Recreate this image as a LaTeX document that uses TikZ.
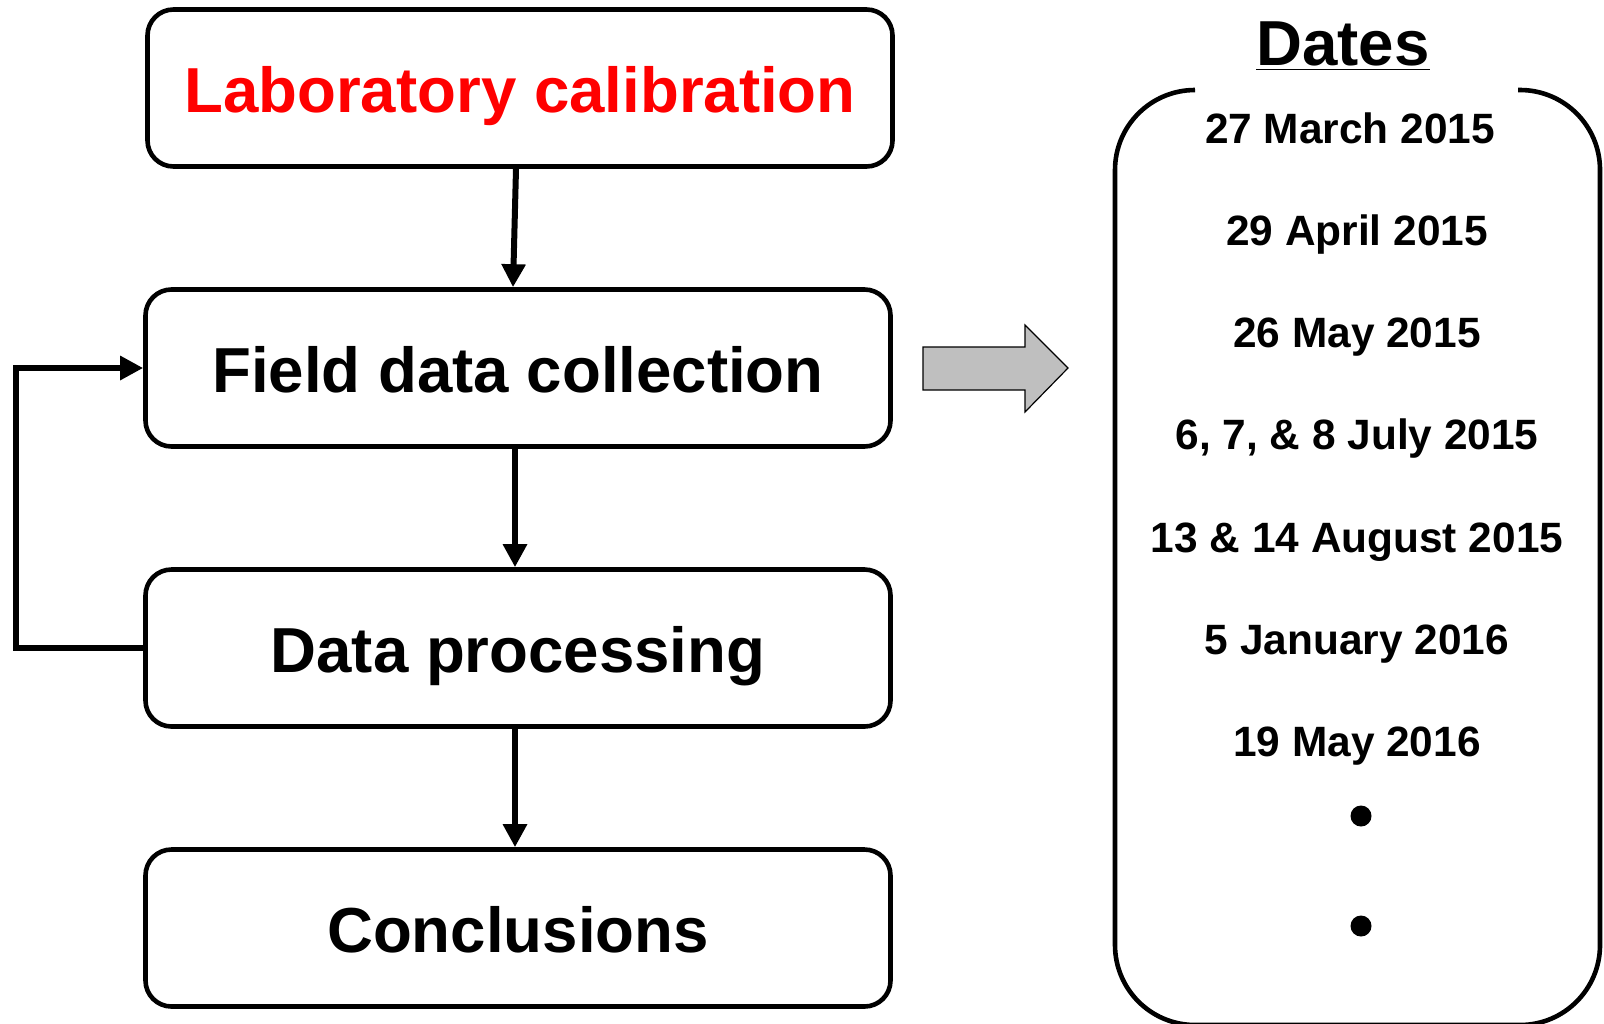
\documentclass[tikz,border=0pt]{standalone}
\usepackage{fontspec}
\setmainfont{Liberation Sans}
\usetikzlibrary{arrows.meta}
\begin{document}
\begin{tikzpicture}[x=0.5pt, y=-0.5pt,
        kasten/.style={draw, line width=2.3pt, rounded corners=13pt, minimum width=372.5pt, minimum height=78.5pt, inner sep=0pt,
          font=\fontsize{31.8}{38}\selectfont\bfseries, text height=24.8pt, text depth=0pt},
        pfeil/.style={line width=3pt, -{Triangle[length=11.5pt,width=11.5pt]}},
        datum/.style={anchor=base, font=\fontsize{21.2}{25}\selectfont\bfseries},
        punkt/.style={circle, fill, inner sep=0pt, minimum size=10.5pt}]
        % Bildbereich
        \useasboundingbox (0,0) rectangle (1604,1023);
        % Kaesten
        \node[kasten, text=red] (labor) at (520,88) {Laboratory calibration};
        \node[kasten] (feld) at (518,368) {Field data collection};
        \node[kasten] (verarb) at (518,648) {Data processing};
        \node[kasten] (schluss) at (518,928) {Conclusions};
        % Pfeile
        \draw[pfeil] ([xshift=-2pt]labor.south) -- ([xshift=-2.5pt]feld.north);
        \draw[pfeil] ([xshift=-1.5pt]feld.south) -- ([xshift=-1.5pt]verarb.north);
        \draw[pfeil] ([xshift=-1.5pt]verarb.south) -- ([xshift=-1.5pt]schluss.north);
        \draw[pfeil] (verarb.west) -- ++(-127,0) |- (feld.west);
        % Blockpfeil
        \draw[fill=gray!50, line width=0.6pt] (923,347) -- (1025,347) -- (1025,325) -- (1068,368)
          -- (1025,412) -- (1025,390) -- (923,390) -- cycle;
        % Termine
        \node[font=\fontsize{31.8}{38}\selectfont\bfseries] (titel) at (1343,46) {\underline{Dates}};
        \draw[line width=2.3pt, rounded corners=40pt] (1195,90) -- (1115,90) -- (1115,1025) -- (1600,1025) -- (1600,90) -- (1518,90);
        \node[datum] (d1) at (1350,143) {27 March 2015};
        \foreach \d [count=\i from 2] in {29 April 2015, 26 May 2015, {6, 7, \& 8 July 2015},
          13 \& 14 August 2015, 5 January 2016, 19 May 2016}
          \node[datum] (d\i) at (1357,{143+102.3*(\i-1)}) {\d};
        \node[punkt] (punkt1) at (1361,816) {};
        \node[punkt] (punkt2) at (1361,926) {};
\end{tikzpicture}
\end{document}
